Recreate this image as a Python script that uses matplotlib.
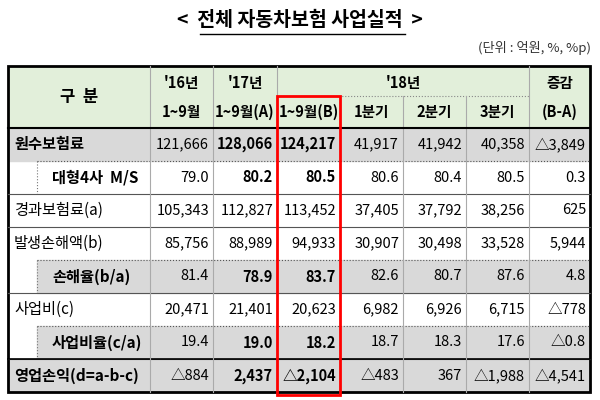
import matplotlib.pyplot as plt
from matplotlib.patches import Rectangle

plt.rcParams["font.family"] = "Noto Sans CJK KR"

# -----------------------------
# DATA
# -----------------------------
title = "전체 자동차보험 사업실적"
unit = "(단위 : 억원, %, %p)"

row_labels = ["원수보험료", "대형4사  M/S", "경과보험료(a)", "발생손해액(b)",
              "손해율(b/a)", "사업비(c)", "사업비율(c/a)", "영업손익(d=a-b-c)"]
row_sub = [False, True, False, False, True, False, True, False]
row_gray = [True, False, False, False, True, False, True, True]
row_bold = [True, True, False, False, True, False, True, True]

values = [
    ["121,666", "128,066", "124,217", "41,917", "41,942", "40,358", "△3,849"],
    ["79.0", "80.2", "80.5", "80.6", "80.4", "80.5", "0.3"],
    ["105,343", "112,827", "113,452", "37,405", "37,792", "38,256", "625"],
    ["85,756", "88,989", "94,933", "30,907", "30,498", "33,528", "5,944"],
    ["81.4", "78.9", "83.7", "82.6", "80.7", "87.6", "4.8"],
    ["20,471", "21,401", "20,623", "6,982", "6,926", "6,715", "△778"],
    ["19.4", "19.0", "18.2", "18.7", "18.3", "17.6", "△0.8"],
    ["△884", "2,437", "△2,104", "△483", "367", "△1,988", "△4,541"],
]

# -----------------------------
# LAYOUT (pixels)
# -----------------------------
cols = [8, 150, 213, 277, 340, 403, 466, 529, 590]
h_top, h_mid, h_bot = 66, 96, 128
row_h = 33
green = "#e2efda"
gray = "#d9d9d9"
hfs = 10.5

fig = plt.figure(figsize=(6, 4), dpi=100)
ax = fig.add_axes([0, 0, 1, 1])
ax.set_xlim(0, 600)
ax.set_ylim(400, 0)
ax.axis("off")

# title
ax.text(300, 20, "<  " + title + "  >", ha="center", va="center",
        fontsize=14, fontweight="bold")
ax.plot([200, 405], [34, 34], color="black", lw=1)
ax.text(591, 48, unit, ha="right", va="center", fontsize=9.5, color="#333333")

# header
ax.add_patch(Rectangle((cols[0], h_top), cols[-1] - cols[0], h_bot - h_top,
                       color=green, zorder=0))
hm = (h_top + h_bot) / 2
ax.text((cols[0] + cols[1]) / 2, hm, "구  분", ha="center", va="center",
        fontsize=12, fontweight="bold")
heads = [("'16년", "1~9월"), ("'17년", "1~9월(A)")]
for i, (a, b) in enumerate(heads):
    cx = (cols[i + 1] + cols[i + 2]) / 2
    ax.text(cx, (h_top + h_mid) / 2 + 2, a, ha="center", va="center", fontsize=hfs, fontweight="bold")
    ax.text(cx, (h_mid + h_bot) / 2, b, ha="center", va="center", fontsize=hfs, fontweight="bold")
ax.text((cols[3] + cols[7]) / 2, (h_top + h_mid) / 2 + 2, "'18년", ha="center",
        va="center", fontsize=hfs, fontweight="bold")
for i, s in enumerate(["1~9월(B)", "1분기", "2분기", "3분기"]):
    ax.text((cols[3 + i] + cols[4 + i]) / 2, (h_mid + h_bot) / 2, s,
            ha="center", va="center", fontsize=hfs, fontweight="bold")
cx = (cols[7] + cols[8]) / 2
ax.text(cx, (h_top + h_mid) / 2 + 2, "증감", ha="center", va="center", fontsize=hfs, fontweight="bold")
ax.text(cx, (h_mid + h_bot) / 2, "(B-A)", ha="center", va="center", fontsize=hfs, fontweight="bold")
ax.plot([cols[3], cols[7]], [h_mid, h_mid], color="#888888", lw=0.8, ls=":")

# body rows
for r, label in enumerate(row_labels):
    y0 = h_bot + r * row_h
    yc = y0 + row_h / 2
    x_start = 37 if row_sub[r] else cols[0]
    if row_gray[r]:
        ax.add_patch(Rectangle((x_start, y0), cols[-1] - x_start, row_h,
                               color=gray, zorder=0))
    if row_sub[r]:
        ax.plot([37, 37], [y0, y0 + row_h], color="#777777", lw=0.8, ls=":")
        ax.text(52, yc, label, ha="left", va="center", fontsize=11,
                fontweight="bold")
    else:
        ax.text(cols[0] + 6, yc, label, ha="left", va="center", fontsize=11,
                fontweight="bold" if row_bold[r] else "normal")
    for c, v in enumerate(values[r]):
        bold = row_bold[r] and c in (1, 2)
        ax.text(cols[c + 2] - 4, yc, v, ha="right", va="center", fontsize=10.5,
                fontweight="bold" if bold else "normal")
    # row separator
    if r > 0:
        xs = 37 if row_sub[r] else cols[0]
        ls = ":" if row_sub[r] else "-"
        ax.plot([xs, cols[-1]], [y0, y0], color="#555555", lw=0.8, ls=ls)

body_bot = h_bot + len(row_labels) * row_h
ax.plot([cols[0], cols[-1]], [body_bot - row_h] * 2, color="black", lw=1.2)

# vertical lines
for x in cols[1:-1]:
    top = h_mid if x in cols[4:7] else h_top
    ax.plot([x, x], [top, body_bot], color="#aaaaaa", lw=0.8)

# outer / header borders
ax.add_patch(Rectangle((cols[0], h_top), cols[-1] - cols[0], body_bot - h_top,
                       fill=False, ec="black", lw=2))
ax.plot([cols[0], cols[-1]], [h_bot, h_bot], color="black", lw=1.5)

# red box
ax.add_patch(Rectangle((cols[3], h_mid), cols[4] - cols[3], body_bot - h_mid + 3,
                       fill=False, ec="red", lw=2, zorder=5))

fig.savefig("out.png", dpi=100)
